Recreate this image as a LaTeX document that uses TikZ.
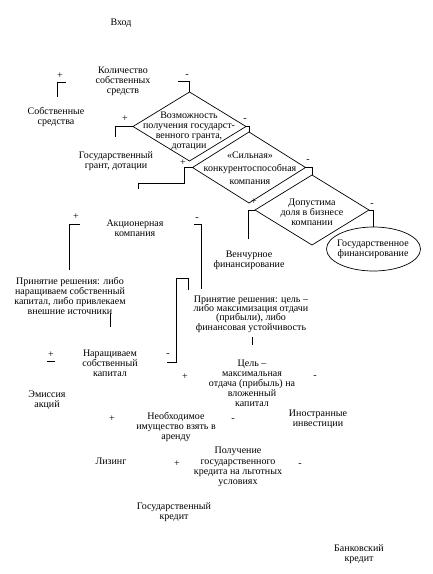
\documentclass[tikz,border=0pt]{standalone}
\usepackage{fontspec}
\setmainfont{Liberation Serif}
\usetikzlibrary{shapes.geometric}
\begin{document}
\begin{tikzpicture}[x=1pt,y=-1pt,
  txt/.style={align=center, inner sep=0pt, font=\fontsize{10}{10}\selectfont},
  sgn/.style={inner sep=0pt, font=\fontsize{10}{10}\selectfont},
  dia/.style={draw, diamond, inner sep=0pt, outer sep=0pt, line width=0.7pt},
  conn/.style={line width=0.7pt}]
\useasboundingbox (0,0) rectangle (433,574);

% texts
\node[txt] (vhod) at (121,23) {Вход};
\node[txt] (kol) at (123,81.5) {Количество\\собственных\\средств};
\node[txt] (sobs) at (56,117) {Собственные\\средства};
\node[txt] (gg) at (116,161) {Государственный\\грант, дотации};

% diamonds
\node[dia, minimum width=113pt, minimum height=69pt] (d1) at (189.5,126.5) {};
\node[txt] (d1t) at (189,131) {Возможность\\получения государст-\\венного гранта,\\дотации};
\node[dia, minimum width=113pt, minimum height=71pt] (d2) at (249,167.5) {};
\node[txt, font=\fontsize{10}{13}\selectfont] (d2t) at (250,168.5) {«Сильная»\\конкурентоспособная\\компания};
\node[dia, minimum width=114pt, minimum height=70pt] (d3) at (312,210) {};
\node[txt] (d3t) at (312,212) {Допустима\\доля в бизнесе\\компании};

\node[draw, ellipse, inner sep=0pt, outer sep=0pt, line width=0.7pt, minimum width=94pt, minimum height=44pt] (gf) at (373.5,249) {};
\node[txt] (gft) at (373,249) {Государственное\\финансирование};

\node[txt] (ven) at (249,260) {Венчурное\\финансирование};
\node[txt] (akc) at (135,228) {Акционерная\\компания};
\node[txt] (pr1) at (70,295.5) {Принятие решения: либо\\наращиваем собственный\\капитал, либо привлекаем\\внешние источники};
\node[txt, font=\fontsize{10}{9.4}\selectfont] (pr2) at (251,314) {Принятие решения: цель –\\либо максимизация отдачи\\(прибыли), либо\\финансовая устойчивость};
\node[txt] (nar) at (110,363) {Наращиваем\\собственный\\капитал};
\node[txt] (cel) at (252,383) {Цель –\\максимальная\\отдача (прибыль) на\\вложенный\\капитал};
\node[txt] (emis) at (47,400) {Эмиссия\\акций};
\node[txt] (neob) at (176,427) {Необходимое\\имущество взять в\\аренду};
\node[txt] (inos) at (318,419) {Иностранные\\инвестиции};
\node[txt] (liz) at (111,461) {Лизинг};
\node[txt, font=\fontsize{10}{10.4}\selectfont] (pol) at (238,467) {Получение\\государственного\\кредита на льготных\\условиях};
\node[txt] (gk) at (174,512) {Государственный\\кредит};
\node[txt] (bank) at (359,554) {Банковский\\кредит};

% signs
\node[sgn] (skp) at (60,76) {+};
\node[sgn] (skm) at (187,76) {-};
\node[sgn] (s1p) at (125,119) {+};
\node[sgn] (s1m) at (245,120) {-};
\node[sgn] (s2p) at (183,163) {+};
\node[sgn] (s2m) at (308,161) {-};
\node[sgn] (s3p) at (254,202) {+};
\node[sgn] (s3m) at (372,205) {-};
\node[sgn] (sap) at (76,217) {+};
\node[sgn] (sam) at (197,219) {-};
\node[sgn] (snp) at (51,355) {+};
\node[sgn] (snm) at (168,355) {-};
\node[sgn] (scp) at (185,377) {+};
\node[sgn] (scm) at (315,377) {-};
\node[sgn] (sip) at (112,419) {+};
\node[sgn] (sim) at (233,420) {-};
\node[sgn] (spp) at (177,464) {+};
\node[sgn] (spm) at (300,465) {-};

% free ends
\coordinate (k1) at (66,82);   \coordinate (k2) at (57,97);
\coordinate (k3) at (178,81);
\coordinate (g1) at (115,137);
\coordinate (c1) at (184,183); \coordinate (c2) at (138,189);
\coordinate (v1) at (248,239);
\coordinate (a1) at (80,224);  \coordinate (a2) at (69,270);
\coordinate (a3) at (194,224); \coordinate (a4) at (201,289);
\coordinate (p1) at (110,313); \coordinate (p2) at (110,327);
\coordinate (n1) at (167,362); \coordinate (n2) at (176,278); \coordinate (n3) at (188,290);
\coordinate (u1) at (47,361);  \coordinate (u2) at (55,361);
\coordinate (q1) at (252,337); \coordinate (q2) at (252,345);

% connectors
\draw[conn] (k1) -| (k2);
\draw[conn] (k3) -| (d1.north);
\draw[conn] (d1.west) -| (g1);
\draw[conn] (d1.east) -| (d2.north);
\draw[conn] (d2.west) -| (c1) -| (c2);
\draw[conn] (d2.east) -| (d3.north);
\draw[conn] (d3.west) -| (v1);
\draw[conn] (d3.east) -| (gf.north);
\draw[conn] (a1) -| (a2);
\draw[conn] (a3) -| (a4);
\draw[conn] (p1) -- (p2);
\draw[conn] (n1) -| (n2) -| (n3);
\draw[conn] (u1) -- (u2);
\draw[conn] (q1) -- (q2);
\end{tikzpicture}
\end{document}
